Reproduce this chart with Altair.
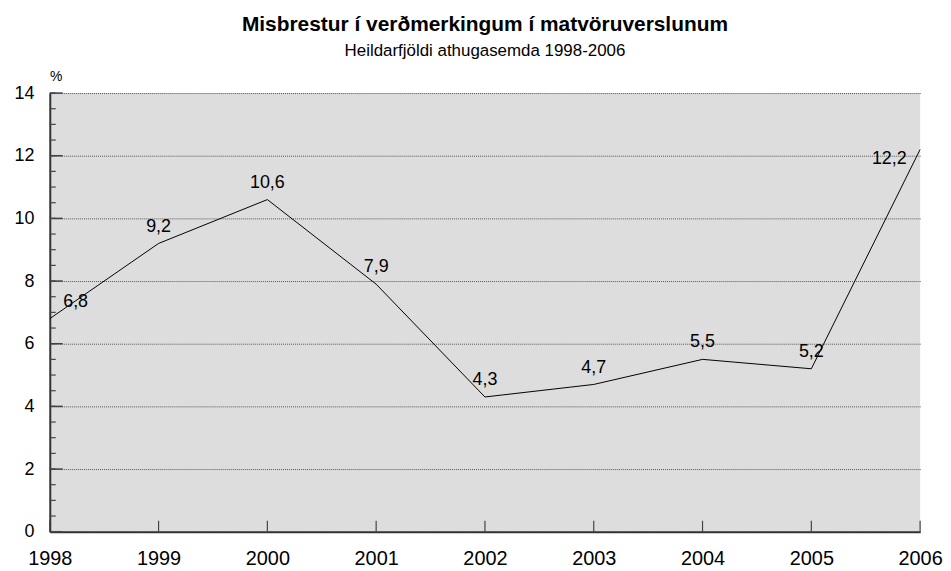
import altair as alt
import pandas as pd

years = [1998, 1999, 2000, 2001, 2002, 2003, 2004, 2005, 2006]
values = [6.8, 9.2, 10.6, 7.9, 4.3, 4.7, 5.5, 5.2, 12.2]
major_ticks = [0, 2, 4, 6, 8, 10, 12, 14]
minor_ticks = [i * 0.5 for i in range(29)]

df = pd.DataFrame({"year": years, "value": values})
df["label"] = [f"{v:.1f}".replace(".", ",") for v in values]
df_major = pd.DataFrame({"t": major_ticks})
df_minor = pd.DataFrame({"t": minor_ticks})
df_years = pd.DataFrame({"year": years})

W, H = 875, 441
FONT = "Liberation Sans"

xscale = alt.Scale(domain=[1998, 2006], nice=False, zero=False)
yscale = alt.Scale(domain=[0, 14], nice=False)

x_axis = alt.Axis(values=years, format="d", grid=False, ticks=False, labelFlush=False,
                  labelFontSize=20, labelPadding=17, labelFont=FONT, labelColor="#000",
                  domainColor="#333", domainWidth=2, title=None)
y_axis = alt.Axis(values=major_ticks, grid=True, gridColor="#555", gridDash=[1, 1],
                  gridWidth=1, ticks=False, labelFontSize=18, labelPadding=16,
                  labelFont=FONT, labelColor="#000", domainColor="#333", domainWidth=2,
                  title="%", titleAngle=0, titleFontSize=14, titleFontWeight="normal",
                  titleFont=FONT, titleX=6, titleY=-10, titleAlign="center",
                  titleBaseline="bottom", titleColor="#000")

base = alt.Chart(df)

line = base.mark_line(color="#000", strokeWidth=1).encode(
    x=alt.X("year:Q", scale=xscale, axis=x_axis),
    y=alt.Y("value:Q", scale=yscale, axis=y_axis),
)

txt_kw = dict(fontSize=18, font=FONT, color="#000", align="center")
mid_labels = base.transform_filter("datum.year > 1998 && datum.year < 2006").mark_text(
    dy=-17, **txt_kw).encode(x="year:Q", y="value:Q", text="label:N")
first_label = base.transform_filter("datum.year == 1998").mark_text(
    dx=26, dy=-17, **txt_kw).encode(x="year:Q", y="value:Q", text="label:N")
last_label = base.transform_filter("datum.year == 2006").mark_text(
    dx=-31, dy=10, **txt_kw).encode(x="year:Q", y="value:Q", text="label:N")

major = alt.Chart(df_major).mark_rule(color="#444", strokeWidth=1.5).encode(
    y=alt.Y("t:Q", scale=yscale), x=alt.value(0), x2=alt.value(13))
minor = alt.Chart(df_minor).mark_rule(color="#444", strokeWidth=1.2).encode(
    y=alt.Y("t:Q", scale=yscale), x=alt.value(0), x2=alt.value(6))
xticks = alt.Chart(df_years).mark_rule(color="#444", strokeWidth=1.2).encode(
    x=alt.X("year:Q", scale=xscale), y=alt.value(H - 11), y2=alt.value(H))

chart = alt.layer(line, major, minor, xticks, mid_labels, first_label, last_label).properties(
    width=W, height=H,
    padding={"left": 5, "top": 5, "right": 0, "bottom": 0},
    title=alt.TitleParams(
        text="Misbrestur í verðmerkingum í matvöruverslunum",
        subtitle="Heildarfjöldi athugasemda 1998-2006",
        fontSize=21, fontWeight="bold", font=FONT, color="#000",
        subtitleFontSize=17, subtitleFont=FONT, subtitleColor="#000",
        subtitlePadding=8, anchor="middle", offset=10,
    ),
).configure_view(fill="#dddddd", stroke=None)

chart.save("out.html", embed_options={"renderer": "svg", "actions": False})
